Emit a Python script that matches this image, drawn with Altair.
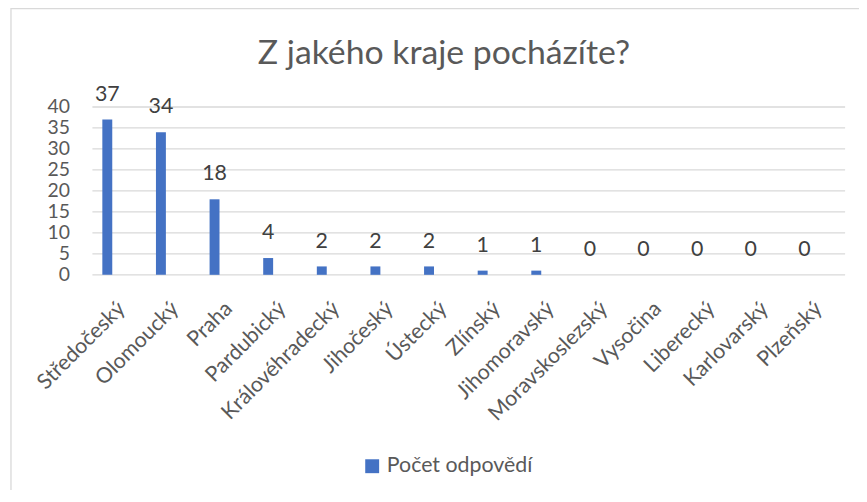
import altair as alt
import pandas as pd

categories = ["Středočeský", "Olomoucký", "Praha", "Pardubický", "Královéhradecký",
              "Jihočeský", "Ústecký", "Zlínský", "Jihomoravský", "Moravskoslezský",
              "Vysočina", "Liberecký", "Karlovarský", "Plzeňský"]
values = [37, 34, 18, 4, 2, 2, 2, 1, 1, 0, 0, 0, 0, 0]
series_name = "Počet odpovědí"
y_ticks = [0, 5, 10, 15, 20, 25, 30, 35, 40]
title_text = "Z jakého kraje pocházíte?"

FONT = "Lato"
GREY = "#595959"
BLUE = "#4472C4"
GRID = "#d9d9d9"
FS = 21.5
FSY = 19.5

df = pd.DataFrame({"kraj": categories, "pocet": values, "serie": [series_name] * len(categories)})
ticks_df = pd.DataFrame({"t": y_ticks})
one = pd.DataFrame({"label": [title_text]})

yscale = alt.Scale(domain=[0, 40], nice=False)
yaxis = alt.Axis(title=None, values=y_ticks, tickCount=9, domain=False, ticks=False, grid=False,
                 labelFontSize=FSY, labelColor=GREY, labelFont=FONT, labelPadding=11,
                 labelOverlap=False)

grid = alt.Chart(ticks_df).mark_rule(color=GRID, strokeWidth=1.3).encode(
    y=alt.Y("t:Q", scale=yscale, axis=yaxis),
    x=alt.value(12),
    x2=alt.value(770),
)

xaxis = alt.Axis(title=None, labelAngle=-45, labelAlign="right", labelBaseline="top",
                 labelFontSize=FS, labelColor=GREY, labelFont=FONT, ticks=False,
                 domain=False, grid=False, labelPadding=23, position=7,
                 labelOverlap=False)
xscale = alt.Scale(paddingInner=0, paddingOuter=0)

bars = alt.Chart(df).mark_bar(size=10).encode(
    x=alt.X("kraj:N", sort=categories, scale=xscale, axis=xaxis),
    y=alt.Y("pocet:Q", scale=yscale, axis=yaxis),
    color=alt.Color("serie:N", scale=alt.Scale(range=[BLUE]),
                    legend=alt.Legend(title=None, orient="none", legendX=283, legendY=351,
                                      symbolType="square", symbolSize=196, symbolStrokeWidth=0,
                                      labelFontSize=FS, labelColor=GREY, labelFont=FONT,
                                      padding=0)),
)

labels = alt.Chart(df).mark_text(dy=-19, baseline="alphabetic", fontSize=FS, color="#404040",
                                 font=FONT).encode(
    x=alt.X("kraj:N", sort=categories, scale=xscale, axis=xaxis),
    y=alt.Y("pocet:Q", scale=yscale, axis=yaxis),
    text="pocet:Q",
)

border = alt.Chart(one).mark_rect(fillOpacity=0, stroke=GRID, strokeWidth=1.3).encode(
    x=alt.value(-70), x2=alt.value(785), y=alt.value(-99), y2=alt.value(394)
)

title = alt.Chart(one).mark_text(fontSize=34, font=FONT, color=GREY, baseline="alphabetic",
                                 align="center").encode(
    text="label:N", x=alt.value(366), y=alt.value(-43)
)

chart = alt.layer(border, grid, bars, labels, title).properties(
    width=756, height=169,
    autosize=alt.AutoSizeParams(type="none"),
    padding={"left": 73, "top": 98, "right": 28, "bottom": 215},
).configure_view(stroke=None).configure_axisY(labelOverlap=False, labelFlush=False)

chart.save("out.html", embed_options={"renderer": "svg", "actions": False})
